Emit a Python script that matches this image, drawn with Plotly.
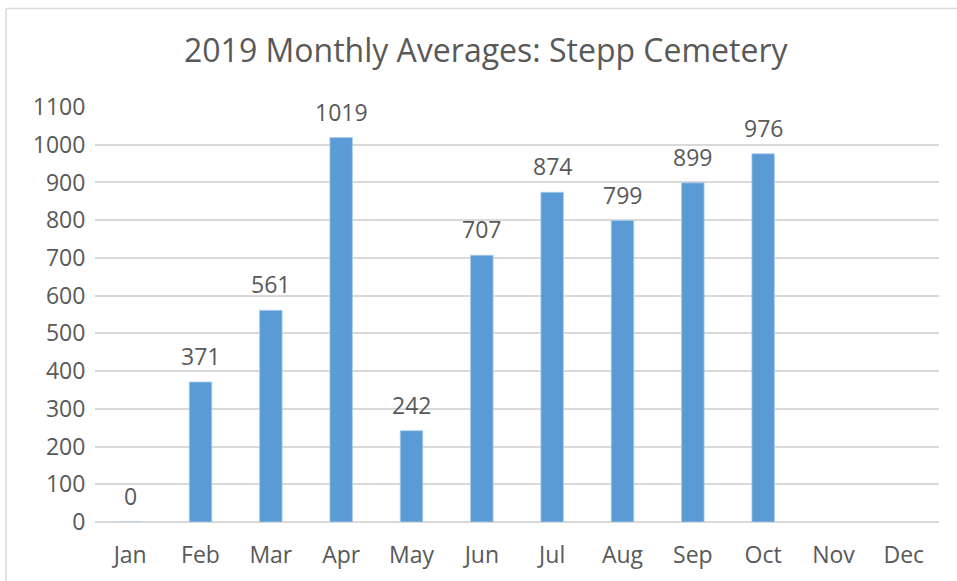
import plotly.graph_objects as go

months = ["Jan", "Feb", "Mar", "Apr", "May", "Jun", "Jul", "Aug", "Sep", "Oct", "Nov", "Dec"]
values = [0, 371, 561, 1019, 242, 707, 874, 799, 899, 976, None, None]
y_ticks = list(range(0, 1101, 100))
title_text = "2019 Monthly Averages: Stepp Cemetery"

FONT = "Open Sans"
TXT = "#595959"

fig = go.Figure()
fig.add_trace(go.Bar(
    x=months, y=values, width=0.32,
    marker=dict(color="#5B9BD5", line=dict(color="#A9CBEB", width=0.8)),
    hoverinfo="x+y",
))

annotations = []
for m, v in zip(months, values):
    if v is None:
        continue
    annotations.append(dict(x=m, y=v, xref="x", yref="y", text=str(v), showarrow=False,
                            yanchor="bottom", yshift=8,
                            font=dict(family=FONT, size=23, color=TXT)))
annotations.append(dict(x=(486.5 - 95) / 844, y=(522 - 50) / 415, xref="paper", yref="paper",
                        text=title_text, showarrow=False, xanchor="center", yanchor="middle",
                        font=dict(family=FONT, size=32, color=TXT)))

fig.update_layout(
    width=957, height=581,
    margin=dict(l=95, r=18, t=107, b=59),
    paper_bgcolor="white", plot_bgcolor="white",
    showlegend=False,
    bargap=0.68,
    annotations=annotations,
    shapes=[
        dict(type="line", xref="paper", yref="paper", x0=(6 - 95) / 844, x1=1.1,
             y0=(522 - 8.5) / 415, y1=(522 - 8.5) / 415, line=dict(color="#D9D9D9", width=1.5)),
        dict(type="line", xref="paper", yref="paper", x0=(6 - 95) / 844, x1=(6 - 95) / 844,
             y0=-0.2, y1=(522 - 8.5) / 415, line=dict(color="#D9D9D9", width=1.5)),
    ],
    xaxis=dict(
        categoryorder="array", categoryarray=months,
        showgrid=False, zeroline=False, showline=False,
        ticks="outside", ticklen=12, tickcolor="rgba(0,0,0,0)",
        tickfont=dict(family=FONT, size=23, color=TXT),
    ),
    yaxis=dict(
        range=[0, 1100], tickvals=y_ticks,
        showgrid=True, gridcolor="#D9D9D9", gridwidth=1.5,
        zeroline=True, zerolinecolor="#D9D9D9", zerolinewidth=1.5,
        showline=False,
        ticks="outside", ticklen=4, tickcolor="rgba(0,0,0,0)",
        tickfont=dict(family=FONT, size=23, color=TXT),
    ),
)

fig.write_html("out.html", config={"displayModeBar": False},
               post_script="document.body.style.margin='0';")
